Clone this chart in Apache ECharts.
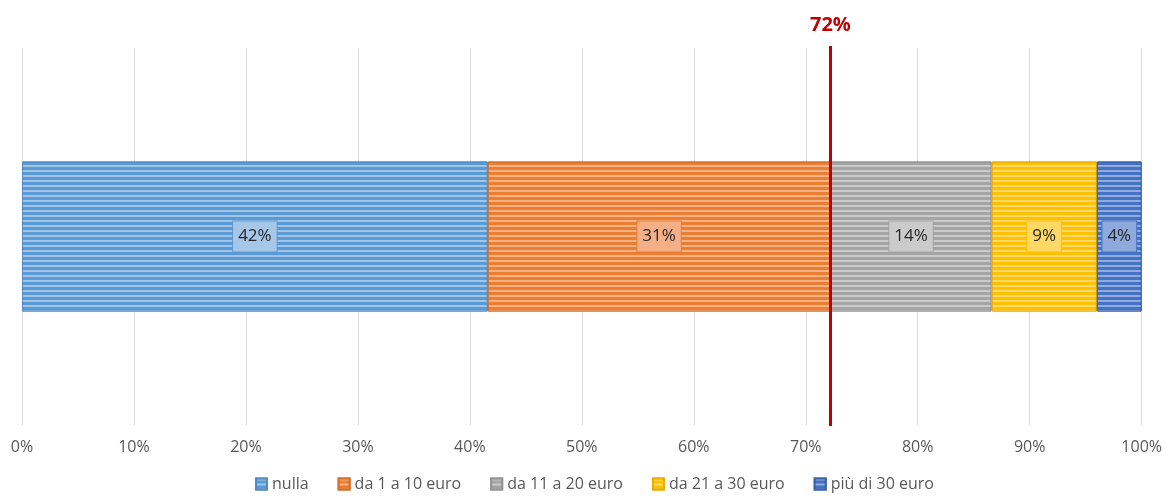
<!DOCTYPE html>
<html>
<head>
<meta charset="utf-8">
<script src="https://cdn.jsdelivr.net/npm/echarts@6/dist/echarts.min.js"></script>
<style>
  html, body { margin: 0; padding: 0; background: #fff; }
  #chart { width: 1165px; height: 496px; }
</style>
</head>
<body>
<div id="chart"></div>
<script>
// Spending bands (share of respondents, %)
const categories = ['nulla', 'da 1 a 10 euro', 'da 11 a 20 euro', 'da 21 a 30 euro', 'più di 30 euro'];
const shares = [41.6, 30.6, 14.4, 9.4, 4.0];
const xTickLabels = ['0%', '10%', '20%', '30%', '40%', '50%', '60%', '70%', '80%', '90%', '100%'];

const colors = ['#5B9BD5', '#ED7D31', '#A5A5A5', '#FFC000', '#4472C4'];
const borders = ['#4F8BC4', '#D86E27', '#949494', '#E8AE00', '#3A63AD'];
const labelFills = ['#A7C7E8', '#F4AF86', '#CBCBCB', '#FFD966', '#8EA9DB'];

// Cumulative share of the first two bands (no spending + up to 10 euro)
const markerValue = shares[0] + shares[1];

const font = '"Open Sans", "Noto Sans", sans-serif';

const series = categories.map((name, i) => ({
  name: name,
  type: 'bar',
  stack: 'total',
  barWidth: 150,
  data: [shares[i]],
  itemStyle: {
    color: colors[i],
    borderColor: borders[i],
    borderWidth: 1,
    decal: {
      symbol: 'rect',
      symbolSize: 1,
      dashArrayX: [1, 0],
      dashArrayY: [2, 3],
      rotation: 0,
      color: 'rgba(255,255,255,0.42)'
    }
  },
  label: {
    show: true,
    position: 'inside',
    formatter: p => Math.round(p.value) + '%',
    fontFamily: font,
    fontSize: 17,
    lineHeight: 20,
    color: '#262626',
    backgroundColor: labelFills[i],
    borderColor: colors[i],
    borderWidth: 1,
    padding: [5, 5, 5, 5]
  },
  emphasis: { disabled: true }
}));

// Vertical marker spanning the plot, labelled with the cumulative share
series[0].markLine = {
  silent: true,
  symbol: ['none', 'none'],
  lineStyle: { color: '#C00000', width: 3, type: 'solid' },
  label: {
    show: true,
    position: 'end',
    formatter: () => Math.round(markerValue) + '%',
    color: '#C00000',
    fontFamily: font,
    fontSize: 20,
    fontWeight: 'bold',
    distance: 11
  },
  data: [[
    { xAxis: markerValue, y: 426 },
    { xAxis: markerValue, y: 46 }
  ]]
};

const chart = echarts.init(document.getElementById('chart'), null, { renderer: 'canvas' });
chart.setOption({
  animation: false,
  color: colors,
  grid: { left: 22, right: 23, top: 48, bottom: 71, containLabel: false },
  xAxis: {
    type: 'value',
    min: 0,
    max: 100,
    interval: 10,
    axisLine: { show: false },
    axisTick: { show: false },
    splitLine: { show: true, lineStyle: { color: '#D9D9D9', width: 1 } },
    axisLabel: {
      formatter: v => xTickLabels[Math.round(v / 10)],
      color: '#595959',
      fontFamily: font,
      fontSize: 16,
      margin: 14
    }
  },
  yAxis: {
    type: 'category',
    data: ['Spesa'],
    axisLine: { show: false },
    axisTick: { show: false },
    axisLabel: { show: false }
  },
  legend: {
    bottom: -1,
    left: 250,
    itemWidth: 11,
    itemHeight: 11,
    itemGap: 29,
    icon: 'rect',
    textStyle: { color: '#595959', fontFamily: font, fontSize: 16 },
    data: categories
  },
  series: series
});
</script>
</body>
</html>
